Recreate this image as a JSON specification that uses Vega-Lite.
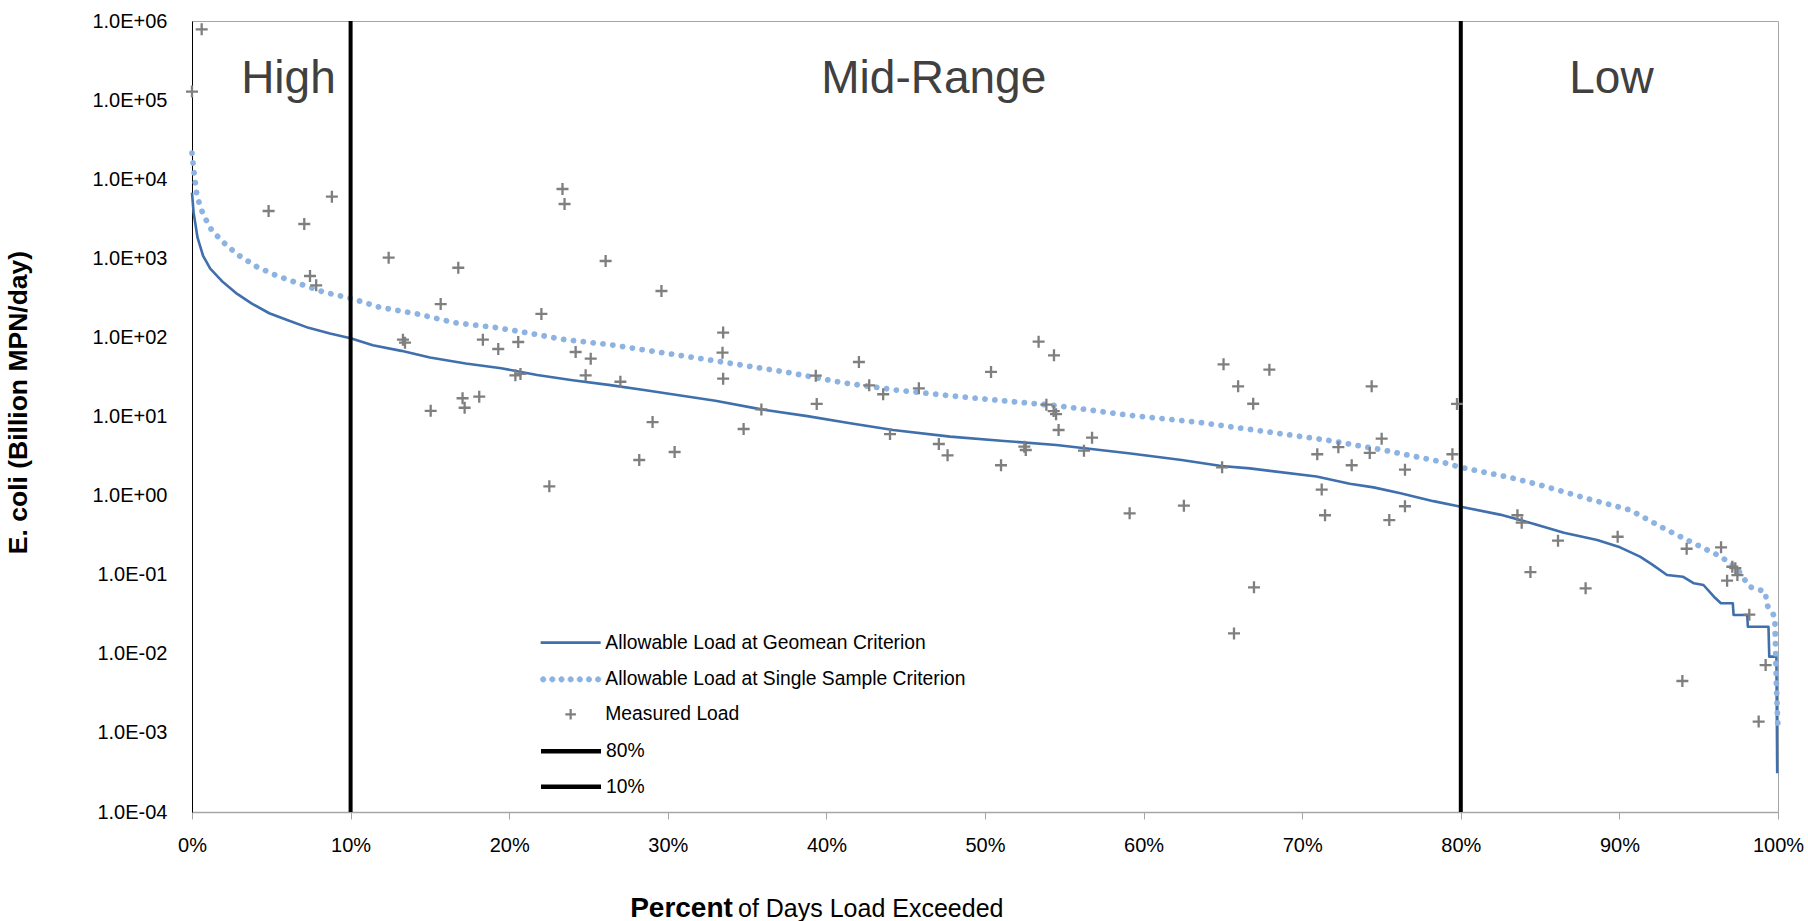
{
  "$schema": "https://vega.github.io/schema/vega-lite/v6.json",
  "width": 1586,
  "height": 791,
  "autosize": {"type": "none"},
  "padding": {"left": 192, "top": 21, "right": 30, "bottom": 109},
  "background": "white",
  "title": {
    "text": "of Days Load Exceeded",
    "orient": "bottom",
    "anchor": "start",
    "frame": "group",
    "dx": 546,
    "dy": -5,
    "offset": 0,
    "baseline": "alphabetic",
    "font": "Liberation Sans",
    "fontSize": 25,
    "fontWeight": "normal",
    "color": "#000000"
  },
  "config": {
    "view": {"stroke": "#a6a6a6", "strokeWidth": 1},
    "font": "Liberation Sans",
    "legend": {
      "orient": "none",
      "legendX": 369,
      "padding": 0,
      "labelFont": "Liberation Sans",
      "labelFontSize": 19.3,
      "labelColor": "#000000",
      "labelOffset": 25,
      "labelLimit": 600,
      "symbolSize": 225,
      "rowPadding": 14.5,
      "symbolOpacity": 1
    }
  },
  "resolve": {"scale": {"color": "independent"}, "legend": {"color": "independent"}},
  "datasets": {
    "geomean": [
      {"series": "Allowable Load at Geomean Criterion", "pct": 0.0, "load": 6761},
      {"series": "Allowable Load at Geomean Criterion", "pct": 0.1, "load": 3802},
      {"series": "Allowable Load at Geomean Criterion", "pct": 0.35, "load": 1820},
      {"series": "Allowable Load at Geomean Criterion", "pct": 0.7, "load": 1072},
      {"series": "Allowable Load at Geomean Criterion", "pct": 1.15, "load": 741},
      {"series": "Allowable Load at Geomean Criterion", "pct": 1.95, "load": 501},
      {"series": "Allowable Load at Geomean Criterion", "pct": 2.85, "load": 355},
      {"series": "Allowable Load at Geomean Criterion", "pct": 3.75, "load": 269},
      {"series": "Allowable Load at Geomean Criterion", "pct": 4.87, "load": 202},
      {"series": "Allowable Load at Geomean Criterion", "pct": 6.0, "load": 166},
      {"series": "Allowable Load at Geomean Criterion", "pct": 7.35, "load": 132},
      {"series": "Allowable Load at Geomean Criterion", "pct": 8.7, "load": 112},
      {"series": "Allowable Load at Geomean Criterion", "pct": 10.0, "load": 97.7},
      {"series": "Allowable Load at Geomean Criterion", "pct": 11.4, "load": 79.4},
      {"series": "Allowable Load at Geomean Criterion", "pct": 13.2, "load": 67.6},
      {"series": "Allowable Load at Geomean Criterion", "pct": 15.0, "load": 55.6},
      {"series": "Allowable Load at Geomean Criterion", "pct": 17.26, "load": 46.8},
      {"series": "Allowable Load at Geomean Criterion", "pct": 19.5, "load": 40.7},
      {"series": "Allowable Load at Geomean Criterion", "pct": 21.76, "load": 33.5},
      {"series": "Allowable Load at Geomean Criterion", "pct": 24.0, "load": 28.8},
      {"series": "Allowable Load at Geomean Criterion", "pct": 26.27, "load": 25.1},
      {"series": "Allowable Load at Geomean Criterion", "pct": 28.5, "load": 21.6},
      {"series": "Allowable Load at Geomean Criterion", "pct": 30.8, "load": 18.4},
      {"series": "Allowable Load at Geomean Criterion", "pct": 33.0, "load": 15.8},
      {"series": "Allowable Load at Geomean Criterion", "pct": 35.9, "load": 12.3},
      {"series": "Allowable Load at Geomean Criterion", "pct": 38.8, "load": 10.1},
      {"series": "Allowable Load at Geomean Criterion", "pct": 41.5, "load": 8.22},
      {"series": "Allowable Load at Geomean Criterion", "pct": 44.2, "load": 6.76},
      {"series": "Allowable Load at Geomean Criterion", "pct": 47.8, "load": 5.56},
      {"series": "Allowable Load at Geomean Criterion", "pct": 51.2, "load": 4.9},
      {"series": "Allowable Load at Geomean Criterion", "pct": 54.5, "load": 4.37},
      {"series": "Allowable Load at Geomean Criterion", "pct": 59.05, "load": 3.43},
      {"series": "Allowable Load at Geomean Criterion", "pct": 62.4, "load": 2.82},
      {"series": "Allowable Load at Geomean Criterion", "pct": 64.9, "load": 2.37},
      {"series": "Allowable Load at Geomean Criterion", "pct": 66.7, "load": 2.21},
      {"series": "Allowable Load at Geomean Criterion", "pct": 70.9, "load": 1.74},
      {"series": "Allowable Load at Geomean Criterion", "pct": 73.0, "load": 1.41},
      {"series": "Allowable Load at Geomean Criterion", "pct": 74.5, "load": 1.27},
      {"series": "Allowable Load at Geomean Criterion", "pct": 76.2, "load": 1.07},
      {"series": "Allowable Load at Geomean Criterion", "pct": 78.27, "load": 0.851},
      {"series": "Allowable Load at Geomean Criterion", "pct": 80.0, "load": 0.724},
      {"series": "Allowable Load at Geomean Criterion", "pct": 82.47, "load": 0.575},
      {"series": "Allowable Load at Geomean Criterion", "pct": 84.57, "load": 0.442},
      {"series": "Allowable Load at Geomean Criterion", "pct": 86.5, "load": 0.339},
      {"series": "Allowable Load at Geomean Criterion", "pct": 88.6, "load": 0.275},
      {"series": "Allowable Load at Geomean Criterion", "pct": 90.04, "load": 0.222},
      {"series": "Allowable Load at Geomean Criterion", "pct": 91.3, "load": 0.169},
      {"series": "Allowable Load at Geomean Criterion", "pct": 92.1, "load": 0.133},
      {"series": "Allowable Load at Geomean Criterion", "pct": 93.0, "load": 0.0991},
      {"series": "Allowable Load at Geomean Criterion", "pct": 94.0, "load": 0.0944},
      {"series": "Allowable Load at Geomean Criterion", "pct": 94.7, "load": 0.0778},
      {"series": "Allowable Load at Geomean Criterion", "pct": 95.3, "load": 0.0741},
      {"series": "Allowable Load at Geomean Criterion", "pct": 95.96, "load": 0.0527},
      {"series": "Allowable Load at Geomean Criterion", "pct": 96.4, "load": 0.0435},
      {"series": "Allowable Load at Geomean Criterion", "pct": 97.15, "load": 0.0435},
      {"series": "Allowable Load at Geomean Criterion", "pct": 97.2, "load": 0.031},
      {"series": "Allowable Load at Geomean Criterion", "pct": 98.06, "load": 0.031},
      {"series": "Allowable Load at Geomean Criterion", "pct": 98.1, "load": 0.022},
      {"series": "Allowable Load at Geomean Criterion", "pct": 99.4, "load": 0.022},
      {"series": "Allowable Load at Geomean Criterion", "pct": 99.45, "load": 0.0092},
      {"series": "Allowable Load at Geomean Criterion", "pct": 99.9, "load": 0.0092},
      {"series": "Allowable Load at Geomean Criterion", "pct": 99.95, "load": 0.000308}
    ],
    "single": [
      {"series": "Allowable Load at Single Sample Criterion", "pct": 0.0, "load": 21380},
      {"series": "Allowable Load at Single Sample Criterion", "pct": 0.15, "load": 11220},
      {"series": "Allowable Load at Single Sample Criterion", "pct": 0.32, "load": 6026},
      {"series": "Allowable Load at Single Sample Criterion", "pct": 0.71, "load": 3548},
      {"series": "Allowable Load at Single Sample Criterion", "pct": 1.27, "load": 2213},
      {"series": "Allowable Load at Single Sample Criterion", "pct": 2.05, "load": 1549},
      {"series": "Allowable Load at Single Sample Criterion", "pct": 2.85, "load": 1122},
      {"series": "Allowable Load at Single Sample Criterion", "pct": 4.08, "load": 783},
      {"series": "Allowable Load at Single Sample Criterion", "pct": 5.14, "load": 627},
      {"series": "Allowable Load at Single Sample Criterion", "pct": 6.68, "load": 483},
      {"series": "Allowable Load at Single Sample Criterion", "pct": 8.36, "load": 372},
      {"series": "Allowable Load at Single Sample Criterion", "pct": 10.0, "load": 312},
      {"series": "Allowable Load at Single Sample Criterion", "pct": 11.85, "load": 240},
      {"series": "Allowable Load at Single Sample Criterion", "pct": 14.2, "load": 198},
      {"series": "Allowable Load at Single Sample Criterion", "pct": 16.6, "load": 153},
      {"series": "Allowable Load at Single Sample Criterion", "pct": 19.06, "load": 134},
      {"series": "Allowable Load at Single Sample Criterion", "pct": 20.86, "load": 117},
      {"series": "Allowable Load at Single Sample Criterion", "pct": 23.34, "load": 94.6},
      {"series": "Allowable Load at Single Sample Criterion", "pct": 26.5, "load": 80.2},
      {"series": "Allowable Load at Single Sample Criterion", "pct": 29.5, "load": 64.7},
      {"series": "Allowable Load at Single Sample Criterion", "pct": 32.3, "load": 53.1},
      {"series": "Allowable Load at Single Sample Criterion", "pct": 34.5, "load": 45.2},
      {"series": "Allowable Load at Single Sample Criterion", "pct": 37.66, "load": 35.8},
      {"series": "Allowable Load at Single Sample Criterion", "pct": 41.04, "load": 26.7},
      {"series": "Allowable Load at Single Sample Criterion", "pct": 44.4, "load": 21.6},
      {"series": "Allowable Load at Single Sample Criterion", "pct": 47.8, "load": 18.3},
      {"series": "Allowable Load at Single Sample Criterion", "pct": 51.17, "load": 15.8},
      {"series": "Allowable Load at Single Sample Criterion", "pct": 54.55, "load": 13.7},
      {"series": "Allowable Load at Single Sample Criterion", "pct": 59.05, "load": 10.4},
      {"series": "Allowable Load at Single Sample Criterion", "pct": 63.56, "load": 8.39},
      {"series": "Allowable Load at Single Sample Criterion", "pct": 67.5, "load": 6.53},
      {"series": "Allowable Load at Single Sample Criterion", "pct": 71.5, "load": 5.05},
      {"series": "Allowable Load at Single Sample Criterion", "pct": 75.1, "load": 3.77},
      {"series": "Allowable Load at Single Sample Criterion", "pct": 78.7, "load": 2.69},
      {"series": "Allowable Load at Single Sample Criterion", "pct": 80.0, "load": 2.28},
      {"series": "Allowable Load at Single Sample Criterion", "pct": 83.3, "load": 1.66},
      {"series": "Allowable Load at Single Sample Criterion", "pct": 85.0, "load": 1.36},
      {"series": "Allowable Load at Single Sample Criterion", "pct": 87.9, "load": 0.925},
      {"series": "Allowable Load at Single Sample Criterion", "pct": 90.67, "load": 0.658},
      {"series": "Allowable Load at Single Sample Criterion", "pct": 93.0, "load": 0.367},
      {"series": "Allowable Load at Single Sample Criterion", "pct": 94.7, "load": 0.249},
      {"series": "Allowable Load at Single Sample Criterion", "pct": 96.4, "load": 0.169},
      {"series": "Allowable Load at Single Sample Criterion", "pct": 97.4, "load": 0.121},
      {"series": "Allowable Load at Single Sample Criterion", "pct": 98.2, "load": 0.0705},
      {"series": "Allowable Load at Single Sample Criterion", "pct": 99.2, "load": 0.061},
      {"series": "Allowable Load at Single Sample Criterion", "pct": 99.3, "load": 0.0414},
      {"series": "Allowable Load at Single Sample Criterion", "pct": 99.8, "load": 0.0294},
      {"series": "Allowable Load at Single Sample Criterion", "pct": 99.85, "load": 0.0112},
      {"series": "Allowable Load at Single Sample Criterion", "pct": 99.9, "load": 0.00424},
      {"series": "Allowable Load at Single Sample Criterion", "pct": 100.0, "load": 0.00109}
    ],
    "rules": [
      {"series": "80%", "pct": 80},
      {"series": "10%", "pct": 10}
    ],
    "measured": [
      {"series": "Measured Load", "pct": 0.0, "load": 128000},
      {"series": "Measured Load", "pct": 0.61, "load": 785000},
      {"series": "Measured Load", "pct": 4.83, "load": 3960},
      {"series": "Measured Load", "pct": 7.08, "load": 2716},
      {"series": "Measured Load", "pct": 8.82, "load": 6010},
      {"series": "Measured Load", "pct": 7.44, "load": 597},
      {"series": "Measured Load", "pct": 7.83, "load": 456},
      {"series": "Measured Load", "pct": 12.4, "load": 1018},
      {"series": "Measured Load", "pct": 16.79, "load": 760},
      {"series": "Measured Load", "pct": 15.68, "load": 264},
      {"series": "Measured Load", "pct": 13.3, "load": 93.5},
      {"series": "Measured Load", "pct": 13.43, "load": 85.7},
      {"series": "Measured Load", "pct": 18.34, "load": 93.5},
      {"series": "Measured Load", "pct": 19.31, "load": 71.3},
      {"series": "Measured Load", "pct": 20.57, "load": 87.5},
      {"series": "Measured Load", "pct": 22.03, "load": 198},
      {"series": "Measured Load", "pct": 20.39, "load": 33.2},
      {"series": "Measured Load", "pct": 20.71, "load": 34.5},
      {"series": "Measured Load", "pct": 23.36, "load": 7515},
      {"series": "Measured Load", "pct": 23.49, "load": 4856},
      {"series": "Measured Load", "pct": 26.08, "load": 925},
      {"series": "Measured Load", "pct": 29.6, "load": 386},
      {"series": "Measured Load", "pct": 24.19, "load": 65.4},
      {"series": "Measured Load", "pct": 25.14, "load": 53.8},
      {"series": "Measured Load", "pct": 24.82, "load": 33.2},
      {"series": "Measured Load", "pct": 27.01, "load": 27.5},
      {"series": "Measured Load", "pct": 33.49, "load": 115},
      {"series": "Measured Load", "pct": 33.45, "load": 64.1},
      {"series": "Measured Load", "pct": 33.49, "load": 30.1},
      {"series": "Measured Load", "pct": 17.06, "load": 17.0},
      {"series": "Measured Load", "pct": 17.19, "load": 12.9},
      {"series": "Measured Load", "pct": 18.11, "load": 17.8},
      {"series": "Measured Load", "pct": 15.05, "load": 11.8},
      {"series": "Measured Load", "pct": 29.04, "load": 8.5},
      {"series": "Measured Load", "pct": 30.43, "load": 3.56},
      {"series": "Measured Load", "pct": 28.2, "load": 2.82},
      {"series": "Measured Load", "pct": 22.53, "load": 1.31},
      {"series": "Measured Load", "pct": 35.9, "load": 12.3},
      {"series": "Measured Load", "pct": 34.78, "load": 6.95},
      {"series": "Measured Load", "pct": 39.33, "load": 32.8},
      {"series": "Measured Load", "pct": 39.39, "load": 14.4},
      {"series": "Measured Load", "pct": 42.05, "load": 48.9},
      {"series": "Measured Load", "pct": 42.7, "load": 24.8},
      {"series": "Measured Load", "pct": 43.58, "load": 19.1},
      {"series": "Measured Load", "pct": 44.01, "load": 6.0},
      {"series": "Measured Load", "pct": 45.83, "load": 22.7},
      {"series": "Measured Load", "pct": 47.09, "load": 4.49},
      {"series": "Measured Load", "pct": 47.64, "load": 3.23},
      {"series": "Measured Load", "pct": 50.38, "load": 36.6},
      {"series": "Measured Load", "pct": 51.01, "load": 2.42},
      {"series": "Measured Load", "pct": 52.48, "load": 4.15},
      {"series": "Measured Load", "pct": 52.57, "load": 3.77},
      {"series": "Measured Load", "pct": 53.38, "load": 88.3},
      {"series": "Measured Load", "pct": 54.35, "load": 59.4},
      {"series": "Measured Load", "pct": 53.87, "load": 14.1},
      {"series": "Measured Load", "pct": 54.33, "load": 11.7},
      {"series": "Measured Load", "pct": 54.48, "load": 10.7},
      {"series": "Measured Load", "pct": 54.64, "load": 6.75},
      {"series": "Measured Load", "pct": 56.75, "load": 5.4},
      {"series": "Measured Load", "pct": 56.24, "load": 3.7},
      {"series": "Measured Load", "pct": 59.12, "load": 0.597},
      {"series": "Measured Load", "pct": 62.54, "load": 0.745},
      {"series": "Measured Load", "pct": 65.04, "load": 45.7},
      {"series": "Measured Load", "pct": 65.96, "load": 24.1},
      {"series": "Measured Load", "pct": 66.91, "load": 14.5},
      {"series": "Measured Load", "pct": 64.95, "load": 2.28},
      {"series": "Measured Load", "pct": 66.96, "load": 0.0693},
      {"series": "Measured Load", "pct": 65.7, "load": 0.0181},
      {"series": "Measured Load", "pct": 67.93, "load": 39.1},
      {"series": "Measured Load", "pct": 74.38, "load": 24.1},
      {"series": "Measured Load", "pct": 79.76, "load": 14.4},
      {"series": "Measured Load", "pct": 70.95, "load": 3.33},
      {"series": "Measured Load", "pct": 72.28, "load": 4.09},
      {"series": "Measured Load", "pct": 73.12, "load": 2.42},
      {"series": "Measured Load", "pct": 74.26, "load": 3.46},
      {"series": "Measured Load", "pct": 75.01, "load": 5.24},
      {"series": "Measured Load", "pct": 76.48, "load": 2.13},
      {"series": "Measured Load", "pct": 79.47, "load": 3.33},
      {"series": "Measured Load", "pct": 71.23, "load": 1.19},
      {"series": "Measured Load", "pct": 71.44, "load": 0.564},
      {"series": "Measured Load", "pct": 76.48, "load": 0.733},
      {"series": "Measured Load", "pct": 75.49, "load": 0.491},
      {"series": "Measured Load", "pct": 83.57, "load": 0.564},
      {"series": "Measured Load", "pct": 83.84, "load": 0.455},
      {"series": "Measured Load", "pct": 86.13, "load": 0.269},
      {"series": "Measured Load", "pct": 84.39, "load": 0.108},
      {"series": "Measured Load", "pct": 87.87, "load": 0.0673},
      {"series": "Measured Load", "pct": 89.89, "load": 0.302},
      {"series": "Measured Load", "pct": 94.24, "load": 0.213},
      {"series": "Measured Load", "pct": 96.41, "load": 0.222},
      {"series": "Measured Load", "pct": 97.12, "load": 0.126},
      {"series": "Measured Load", "pct": 97.31, "load": 0.121},
      {"series": "Measured Load", "pct": 97.44, "load": 0.099},
      {"series": "Measured Load", "pct": 96.79, "load": 0.084},
      {"series": "Measured Load", "pct": 98.19, "load": 0.0312},
      {"series": "Measured Load", "pct": 99.22, "load": 0.0072},
      {"series": "Measured Load", "pct": 98.78, "load": 0.00139},
      {"series": "Measured Load", "pct": 93.97, "load": 0.00453}
    ],
    "regions": [
      {"label": "High", "pct": 6.08, "load": 123000},
      {"label": "Mid-Range", "pct": 46.77, "load": 123000},
      {"label": "Low", "pct": 89.5, "load": 123000}
    ]
  },
  "encoding": {
    "x": {
      "field": "pct",
      "type": "quantitative",
      "scale": {"domain": [0, 100], "nice": false, "zero": false},
      "axis": {
        "title": "Percent",
        "values": [0, 10, 20, 30, 40, 50, 60, 70, 80, 90, 100],
        "labelExpr": "datum.value + '%'",
        "grid": false,
        "domainColor": "#a6a6a6",
        "domainWidth": 1.5,
        "tickColor": "#a6a6a6",
        "tickSize": 7,
        "labelFont": "Liberation Sans",
        "labelFontSize": 20,
        "labelColor": "#000000",
        "labelPadding": 16,
        "labelFlush": false,
        "titleFont": "Liberation Sans",
        "titleFontSize": 28,
        "titleFontWeight": "bold",
        "titleColor": "#000000",
        "titleX": 489,
        "titleY": 104,
        "titleBaseline": "alphabetic"
      }
    },
    "y": {
      "field": "load",
      "type": "quantitative",
      "scale": {"type": "log", "domain": [0.0001, 1000000], "nice": false},
      "axis": {
        "title": "E. coli (Billion MPN/day)",
        "values": [0.0001, 0.001, 0.01, 0.1, 1, 10, 100, 1000, 10000, 100000, 1000000],
        "labelExpr": "'1.0E' + (datum.value >= 1 ? '+' : '-') + (abs(round(log(datum.value) / LN10)) < 10 ? '0' : '') + abs(round(log(datum.value) / LN10))",
        "grid": false,
        "ticks": false,
        "domainColor": "#000000",
        "domainWidth": 1,
        "labelFont": "Liberation Sans",
        "labelFontSize": 20,
        "labelColor": "#000000",
        "labelPadding": 25,
        "labelFlush": false,
        "titleFont": "Liberation Sans",
        "titleFontSize": 26.5,
        "titleFontWeight": "bold",
        "titleColor": "#000000",
        "titleX": -174,
        "titleY": 381,
        "titleBaseline": "middle"
      }
    }
  },
  "layer": [
    {
      "data": {"name": "geomean"},
      "mark": {"type": "line", "strokeWidth": 2.6, "strokeJoin": "round"},
      "encoding": {
        "color": {
          "field": "series",
          "type": "nominal",
          "scale": {"domain": ["Allowable Load at Geomean Criterion"], "range": ["#3f6fac"]},
          "legend": {"title": null, "legendY": 612, "symbolType": "M-4,0H4", "symbolStrokeWidth": 2.6}
        }
      }
    },
    {
      "data": {"name": "single"},
      "mark": {"type": "line", "strokeWidth": 5.8, "strokeDash": [0.1, 9.8], "strokeCap": "round", "strokeJoin": "round"},
      "encoding": {
        "color": {
          "field": "series",
          "type": "nominal",
          "scale": {"domain": ["Allowable Load at Single Sample Criterion"], "range": ["#8db3e2"]},
          "legend": {
            "title": null,
            "legendY": 648.7,
            "symbolType": "M-3.32,-0.141L-3.32,0.141L-3.519,0.34L-3.801,0.34L-4,0.141L-4,-0.141L-3.801,-0.34L-3.519,-0.34ZM-2.1,-0.141L-2.1,0.141L-2.299,0.34L-2.581,0.34L-2.78,0.141L-2.78,-0.141L-2.581,-0.34L-2.299,-0.34ZM-0.88,-0.141L-0.88,0.141L-1.079,0.34L-1.361,0.34L-1.56,0.141L-1.56,-0.141L-1.361,-0.34L-1.079,-0.34ZM0.34,-0.141L0.34,0.141L0.141,0.34L-0.141,0.34L-0.34,0.141L-0.34,-0.141L-0.141,-0.34L0.141,-0.34ZM1.56,-0.141L1.56,0.141L1.361,0.34L1.079,0.34L0.88,0.141L0.88,-0.141L1.079,-0.34L1.361,-0.34ZM2.78,-0.141L2.78,0.141L2.581,0.34L2.299,0.34L2.1,0.141L2.1,-0.141L2.299,-0.34L2.581,-0.34ZM4,-0.141L4,0.141L3.801,0.34L3.519,0.34L3.32,0.141L3.32,-0.141L3.519,-0.34L3.801,-0.34Z",
            "symbolFillColor": "#8db3e2",
            "symbolStrokeWidth": 0.8
          }
        }
      }
    },
    {
      "data": {"name": "rules"},
      "mark": {"type": "rule", "strokeWidth": 4},
      "encoding": {
        "x": {"field": "pct", "type": "quantitative"},
        "y": null,
        "color": {
          "field": "series",
          "type": "nominal",
          "scale": {"domain": ["80%", "10%"], "range": ["#000000", "#000000"]},
          "legend": {"title": null, "legendY": 720.3, "symbolType": "M-4,0H4", "symbolStrokeWidth": 4.5}
        }
      }
    },
    {
      "data": {"name": "measured"},
      "mark": {"type": "point", "filled": false, "size": 225, "opacity": 1, "strokeWidth": 2.3, "shape": "M-0.8,0H0.8M0,-0.8V0.8"},
      "encoding": {
        "color": {
          "field": "series",
          "type": "nominal",
          "scale": {"domain": ["Measured Load"], "range": ["#7f7f7f"]},
          "legend": {"title": null, "legendY": 683.7, "symbolType": "M-0.7,0H0.7M0,-0.7V0.7", "symbolStrokeWidth": 2.2}
        }
      }
    },
    {
      "data": {"name": "regions"},
      "mark": {"type": "text", "font": "Liberation Sans", "fontSize": 46, "color": "#404040", "align": "center", "baseline": "alphabetic"},
      "encoding": {
        "text": {"field": "label", "type": "nominal"}
      }
    }
  ]
}
